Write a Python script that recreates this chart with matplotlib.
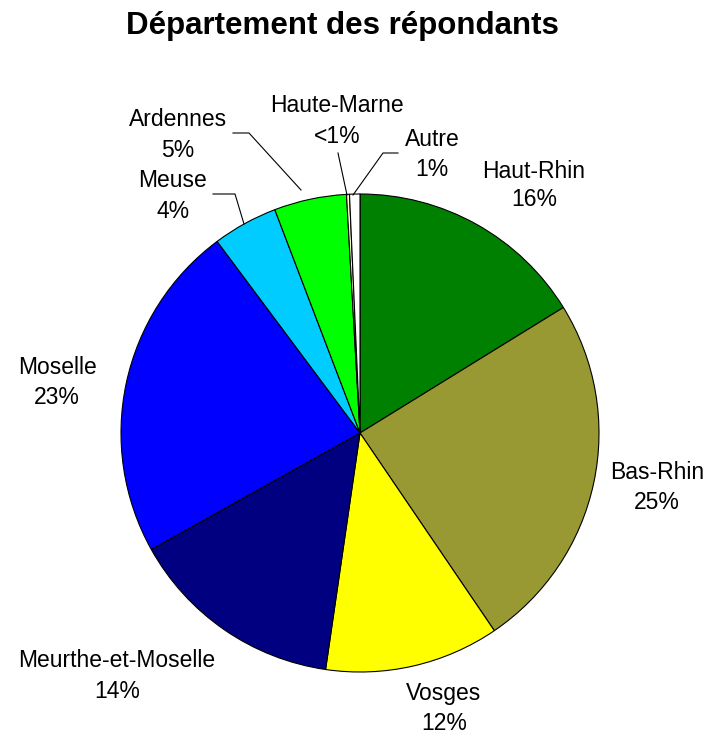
import matplotlib
matplotlib.use("Agg")
import matplotlib.pyplot as plt

W, H = 708, 735

categories = ["Haut-Rhin", "Bas-Rhin", "Vosges", "Meurthe-et-Moselle", "Moselle",
              "Meuse", "Ardennes", "Haute-Marne", "Autre"]
values = [16.2, 24.3, 11.8, 14.6, 22.9, 4.4, 4.9, 0.2, 0.7]
pct_labels = ["16%", "25%", "12%", "14%", "23%", "4%", "5%", "<1%", "1%"]
colors = ["#008000", "#999933", "#FFFF00", "#000080", "#0000FF",
          "#00CCFF", "#00FF00", "#FFFFCC", "#FFFFFF"]

# label anchor: (x center, baseline of name line, baseline of percent line) in pixels from top
label_pos = [(534, 178, 206), (657, 479, 509), (444, 700, 730), (117, 667, 698),
             (57, 374, 404), (173, 187, 218), (178, 126, 157), (337, 112, 143),
             (432, 146, 176)]

plt.rcParams['font.family'] = ['Liberation Sans', 'DejaVu Sans']

fig = plt.figure(figsize=(W / 100, H / 100), dpi=100)
ax = fig.add_axes([0, 0, 1, 1])

def Y(y):
    return H - y

ax.pie(values, colors=colors, startangle=90, counterclock=False,
       center=(360, Y(433)), radius=239, frame=True,
       wedgeprops=dict(edgecolor='black', linewidth=0.8))
ax.set_xlim(0, W)
ax.set_ylim(0, H)
ax.set_aspect('equal')
ax.axis('off')

FS = 16.5
for cat, pct, (x, y1, y2) in zip(categories, pct_labels, label_pos):
    ax.text(x, Y(y1), cat, ha='center', va='baseline', fontsize=FS)
    ax.text(x, Y(y2), pct, ha='center', va='baseline', fontsize=FS)

# leader lines
leaders = [
    [(233, 133), (249, 133), (301, 190)],   # Ardennes
    [(213, 194), (235, 194), (244, 224)],   # Meuse
    [(338, 153), (347, 195)],               # Haute-Marne
    [(398, 153), (383, 153), (353, 195)],   # Autre
]
for pts in leaders:
    ax.plot([p[0] for p in pts], [Y(p[1]) for p in pts], color='black', lw=0.8)

fig.text(342 / W, 1 - 34 / H, "Département des répondants", ha='center', va='baseline',
         fontsize=22.5, fontweight='bold')

fig.savefig("out.png", dpi=100)
